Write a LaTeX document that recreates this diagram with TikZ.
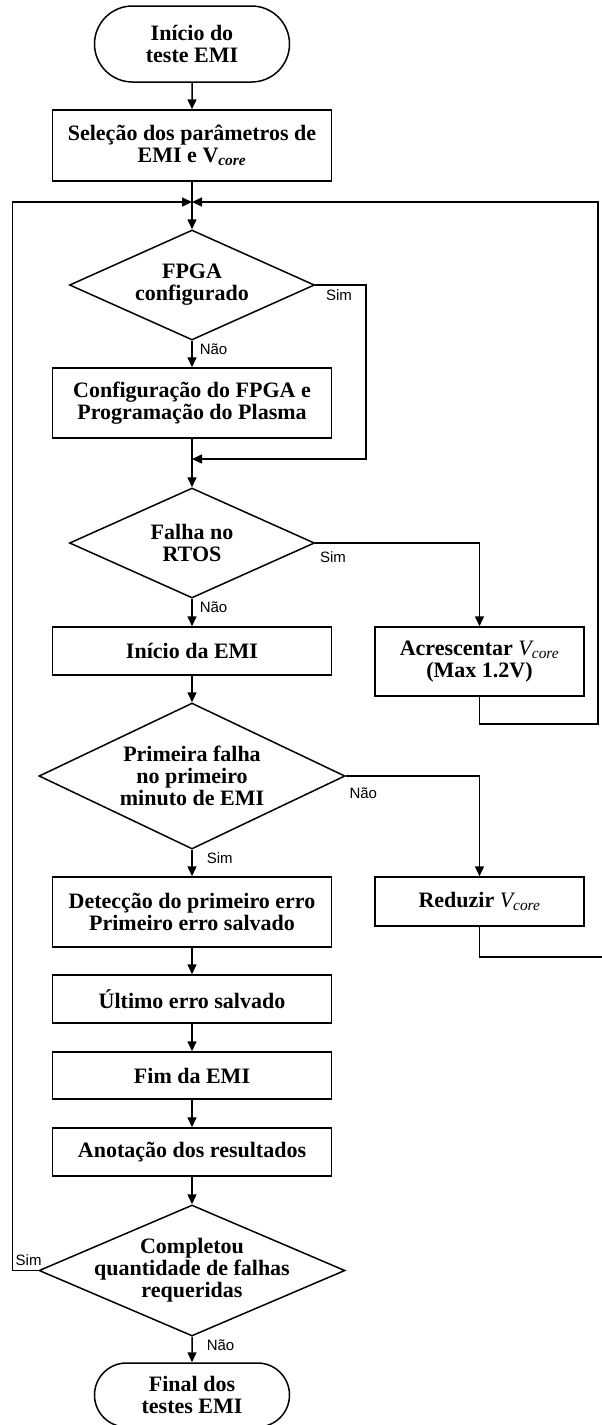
\documentclass[tikz,border=0pt]{standalone}
\usepackage{fontspec}
\setmainfont{Liberation Serif}
\newfontfamily\lblfont{Liberation Sans}
\usetikzlibrary{shapes.geometric, shapes.misc, arrows.meta, positioning}

\newcommand{\vcore}{{\mdseries\itshape V\textsubscript{core}}}

\begin{document}
\begin{tikzpicture}[x=1pt, y=-1pt, line width=1.5pt,
  base/.style={draw, align=center, inner sep=0pt,
    font=\fontsize{22}{22}\selectfont\bfseries},
  terminal/.style={base, rounded rectangle, minimum width=195pt},
  process/.style={base, rectangle, minimum width=279pt},
  sidebox/.style={base, rectangle, minimum width=209pt},
  decision/.style={draw, diamond, inner sep=0pt},
  dtext/.style={align=center, inner sep=0pt,
    font=\fontsize{22}{22}\selectfont\bfseries},
  lbl/.style={font=\lblfont\fontsize{15}{15}\selectfont, inner sep=1pt},
  flow/.style={-{Triangle[length=10pt, width=9pt]}}]
  \useasboundingbox (0,0) rectangle (602,1425);

  % main column
  \node[terminal, minimum height=76pt] (start) at (192,44) {Início do\\teste EMI};
  \node[process, minimum height=71pt] (sel) at (192,145.5)
    {Seleção dos parâmetros de\\EMI e V\textsubscript{\itshape core}};
  \coordinate (merge) at (192,202);
  \node[decision, minimum width=245pt, minimum height=110pt,
    label={[dtext]center:{FPGA\\configurado}}] (fpga) at (192,285) {};
  \node[process, minimum height=70pt] (cfg) at (192,403)
    {Configuração do FPGA e\\Programação do Plasma};
  \coordinate (join) at (192,459);
  \node[decision, minimum width=245pt, minimum height=110pt,
    label={[dtext]center:{Falha no\\RTOS}}] (rtos) at (192,543) {};
  \node[process, minimum height=48pt] (emi) at (192,651) {Início da EMI};
  \node[decision, minimum width=306pt, minimum height=146pt,
    label={[dtext]center:{Primeira falha\\no primeiro\\minuto de EMI}}] (first) at (192,776) {};
  \node[process, minimum height=70pt] (det) at (192,912)
    {Detecção do primeiro erro\\Primeiro erro salvado};
  \node[process, minimum height=48pt] (last) at (192,999) {Último erro salvado};
  \node[process, minimum height=47pt] (fim) at (192,1075.5) {Fim da EMI};
  \node[process, minimum height=48pt] (notes) at (192,1152) {Anotação dos resultados};
  \node[decision, minimum width=306pt, minimum height=131pt,
    label={[dtext]center:{Completou\\quantidade de falhas\\requeridas}}] (done) at (192,1270.5) {};
  \node[terminal, minimum height=64pt] (final) at (192,1395) {Final dos\\testes EMI};

  % right column
  \node[sidebox, minimum height=69pt] (raise) at (479.5,661.5)
    {Acrescentar \vcore\\(Max 1.2V)};
  \node[sidebox, minimum height=49pt] (lower) at (479.5,901.5) {Reduzir \vcore};

  % corners of the loops
  \coordinate (skip) at (366,459);
  \coordinate (rbot) at (598,724);
  \coordinate (rtop) at (598,202);
  \coordinate (lbot) at (12.6,1270.5);
  \coordinate (cut) at (602,957);

  % connectors
  \draw[flow] (start) -- (sel);
  \draw[flow] (sel) -- (fpga);
  \draw[flow] (fpga) -- node[lbl, pos=0, below right, xshift=6pt, yshift=-1pt] {Não} (cfg);
  \draw[flow] (fpga.east) node[lbl, below right, xshift=9pt, yshift=-3pt] {Sim}
    -| (skip) -- (join);
  \draw[flow] (cfg) -- (rtos);
  \draw[flow] (rtos) -- node[lbl, pos=0, below right, xshift=6pt, yshift=-1pt] {Não} (emi);
  \draw[flow] (rtos.east) node[lbl, below right, xshift=3pt, yshift=-7pt] {Sim}
    -| (raise);
  \draw[flow] (raise) |- (rbot) -- (rtop) -- (merge);
  \draw[flow] (emi) -- (first);
  \draw[flow] (first) -- node[lbl, pos=0, below right, xshift=13pt, yshift=-1pt] {Sim} (det);
  \draw[flow] (first.east) node[lbl, below right, xshift=2pt, yshift=-10pt] {Não}
    -| (lower);
  \draw (lower) |- (cut);
  \draw[flow] (det) -- (last);
  \draw[flow] (last) -- (fim);
  \draw[flow] (fim) -- (notes);
  \draw[flow] (notes) -- (done);
  \draw[flow] (done) -- node[lbl, pos=0, below right, xshift=13pt, yshift=-1pt] {Não} (final);
  \draw[flow] (done.west) node[lbl, above left, xshift=5pt, yshift=3pt] {Sim}
    -- (lbot) |- (merge);
\end{tikzpicture}
\end{document}
